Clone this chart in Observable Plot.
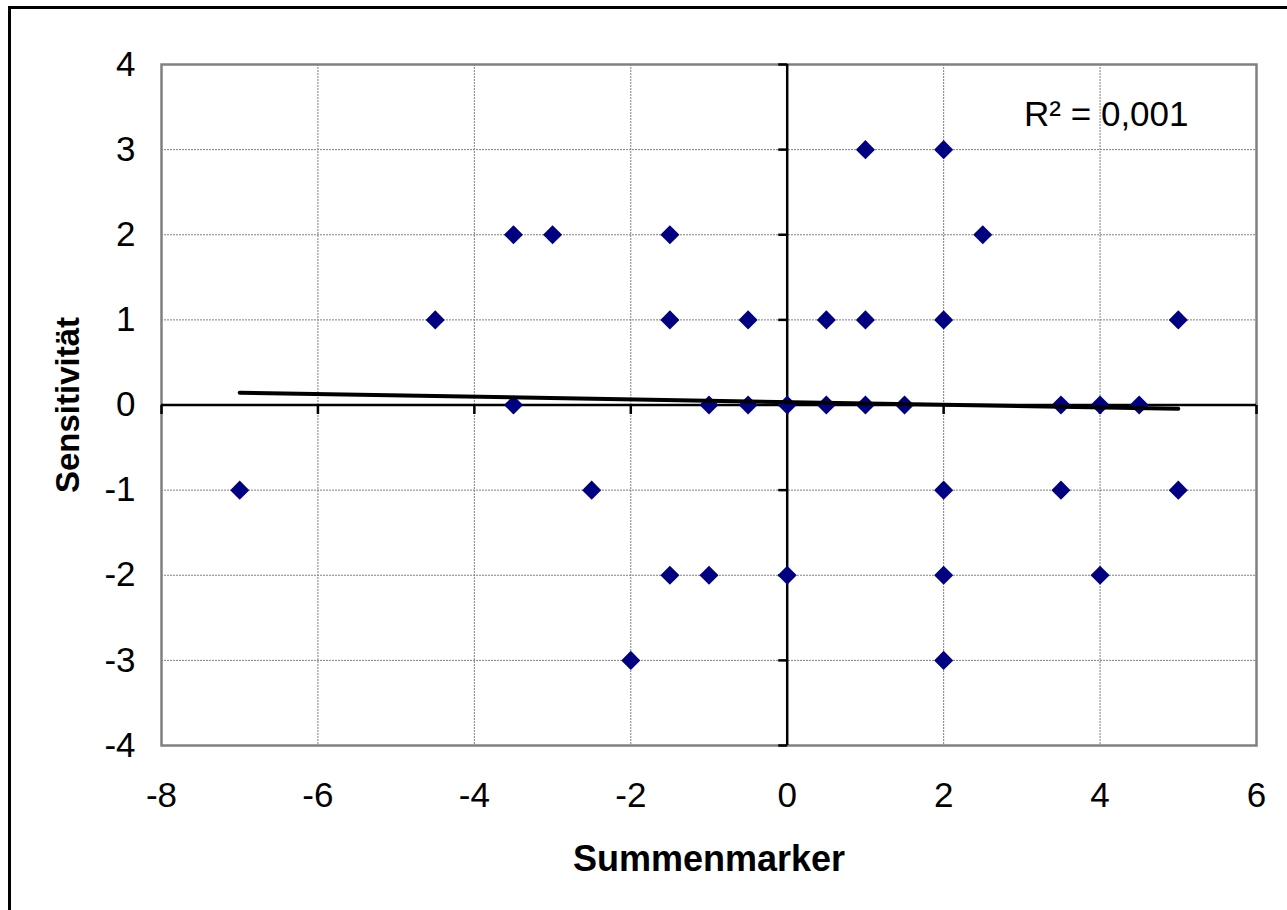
<!DOCTYPE html>
<html>
<head>
<meta charset="utf-8">
<script src="https://cdn.jsdelivr.net/npm/d3@7"></script>
<script src="https://cdn.jsdelivr.net/npm/@observablehq/plot@0.6"></script>
<style>
  html, body { margin: 0; padding: 0; background: #fff; overflow: hidden; width: 1287px; height: 910px; }
  #border { position: absolute; left: 8px; top: 6px; width: 1320px; height: 940px; border: 3px solid #000; box-sizing: border-box; }
  #chart { position: absolute; left: 0; top: 0; }
</style>
</head>
<body>
<div id="border"></div>
<div id="chart"></div>
<script>
// Data
const summenmarker = [-7, -4.5, -3.5, -3, -3.5, -2.5, -2, -1.5, -1.5, -1.5, -1, -1, -0.5, -0.5, 0, 0, 0.5, 0.5, 1, 1, 1, 1.5, 2, 2, 2, 2, 2, 2.5, 3.5, 3.5, 4, 4, 4.5, 5, 5];
const sensitivitaet = [-1, 1, 2, 2, 0, -1, -3, 2, 1, -2, 0, -2, 1, 0, 0, -2, 1, 0, 3, 1, 0, 0, 3, 1, -1, -2, -3, 2, 0, -1, 0, -2, 0, 1, -1];

// Trend line endpoints
const trendX = [-7, 5];
const trendY = [0.145, -0.045];

const xTicks = [-8, -6, -4, -2, 0, 2, 4, 6];
const yTicks = [-4, -3, -2, -1, 0, 1, 2, 3, 4];
const xGrid = [-6, -4, -2, 2, 4];
const yGrid = [-3, -2, -1, 1, 2, 3];

const xLabel = "Summenmarker";
const yLabel = "Sensitivität";
const r2Label = "R² = 0,001";

const points = summenmarker.map((x, i) => ({x, y: sensitivitaet[i]}));
const trend = trendX.map((x, i) => ({x, y: trendY[i]}));

const tickLeft = { draw(ctx) { ctx.moveTo(-9, 0); ctx.lineTo(0, 0); } };
const tickDown = { draw(ctx) { ctx.moveTo(0, 0); ctx.lineTo(0, 9); } };

const chart = Plot.plot({
  width: 1287,
  height: 910,
  marginLeft: 161,
  marginRight: 31,
  marginTop: 64,
  marginBottom: 165,
  style: { fontFamily: "'Liberation Sans', Arial, sans-serif", background: "transparent", color: "#000", overflow: "visible" },
  x: { domain: [-8, 6] },
  y: { domain: [-4, 4] },
  marks: [
    Plot.gridX(xGrid, { stroke: "#808080", strokeOpacity: 1, strokeWidth: 1, strokeDasharray: "2,1" }),
    Plot.gridY(yGrid, { stroke: "#808080", strokeOpacity: 1, strokeWidth: 1, strokeDasharray: "2,1" }),
    Plot.frame({ stroke: "#808080", strokeWidth: 2.5 }),
    Plot.ruleX([0], { stroke: "#000", strokeWidth: 2.5 }),
    Plot.ruleY([0], { stroke: "#000", strokeWidth: 2.5 }),
    Plot.dot(yTicks, { x: () => 0, y: d => d, symbol: tickLeft, fill: "none", stroke: "#000", strokeWidth: 2.5 }),
    Plot.dot(xTicks, { x: d => d, y: () => 0, symbol: tickDown, fill: "none", stroke: "#000", strokeWidth: 2.5 }),
    Plot.axisX(xTicks, { tickSize: 0, tickPadding: 37, fontSize: 35, tickFormat: d => String(d), label: null }),
    Plot.axisY(yTicks, { tickSize: 0, tickPadding: 26, fontSize: 35, tickFormat: d => String(d), label: null }),
    Plot.dot(points, { x: "x", y: "y", symbol: "diamond2", r: 8.6, fill: "#000080", stroke: "none" }),
    Plot.line(trend, { x: "x", y: "y", stroke: "#000", strokeWidth: 4 }),
    Plot.text([r2Label], { text: d => d, frameAnchor: "top-right", textAnchor: "end", lineAnchor: "top", dx: -68, dy: 37, fontSize: 35, fill: "#000" }),
    Plot.text([xLabel], { text: d => d, frameAnchor: "bottom", textAnchor: "middle", lineAnchor: "top", dy: 100, fontSize: 36, fontWeight: "bold", fill: "#000" }),
    Plot.text([yLabel], { text: d => d, frameAnchor: "left", textAnchor: "middle", lineAnchor: "middle", rotate: -90, dx: -93, fontSize: 33, fontWeight: "bold", fill: "#000" })
  ]
});
document.getElementById("chart").appendChild(chart);
</script>
</body>
</html>
